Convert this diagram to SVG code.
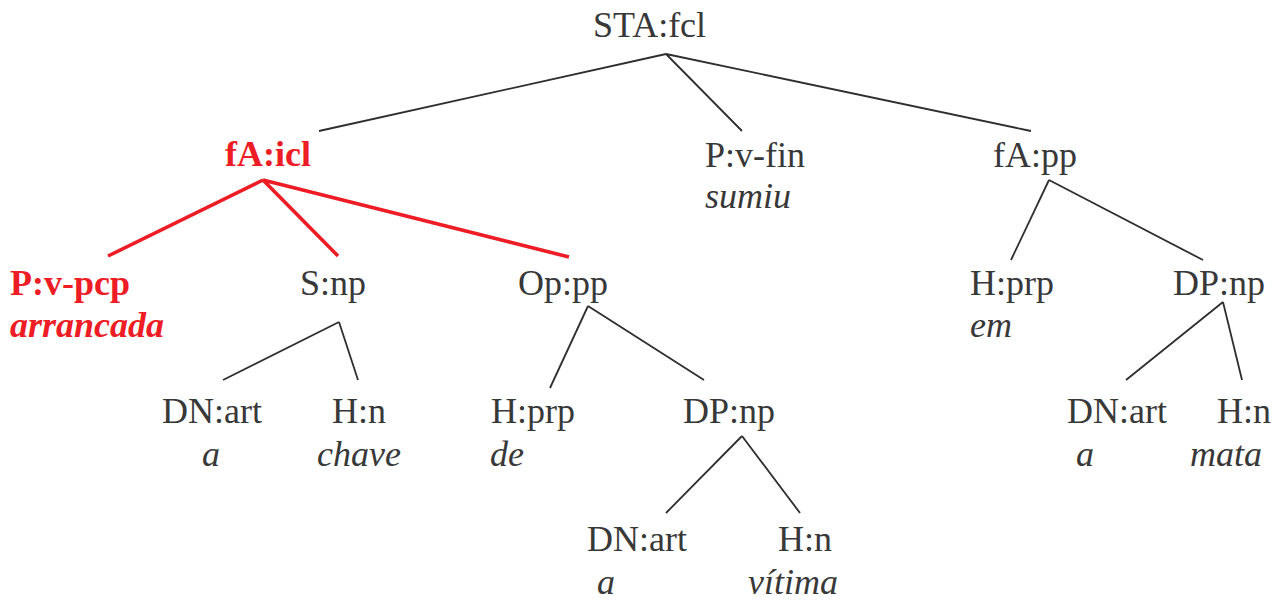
<svg xmlns="http://www.w3.org/2000/svg" width="1282" height="600" viewBox="0 0 1282 600">
<style>
.t{font-family:'Liberation Serif','DejaVu Serif',serif;font-size:36px;fill:#383838}
.w{font-style:italic}
.r{fill:#ee1c25;font-weight:bold}
.e{stroke:#2e2e2e;stroke-width:1.8;fill:none;stroke-linecap:butt}
.er{stroke:#ee1c25;stroke-width:3.6;fill:none}
</style>
<rect width="1282" height="600" fill="#ffffff"/>
<g id="connectors">
<path class="e" d="M666 54L319 131M666 54L742 131M666 54L1031 131"/>
<path class="e" d="M1049 180L1011 260M1049 180L1203 260"/>
<path class="e" d="M1223 302L1126 380M1223 302L1242 380"/>
<path class="e" d="M339 322L223 380M339 322L358 380"/>
<path class="e" d="M588 306L550 388M588 306L704 380"/>
<path class="e" d="M742 436L666 513M742 436L800 513"/>
<path class="er" d="M263 180L108 256M263 180L338 256M263 180L569 257"/>
</g>
<g class="t" font-family="Liberation Serif, serif">
<g id="n-sta"><text x="593" y="37">STA:fcl</text></g>
<g id="n-faicl"><text class="r" x="225" y="166">fA:icl</text></g>
<g id="n-pvfin"><text x="705" y="167">P:v-fin</text><text class="w" x="705" y="208">sumiu</text></g>
<g id="n-fapp"><text x="993" y="167">fA:pp</text></g>
<g id="n-pvpcp"><text class="r" x="10" y="295">P:v-pcp</text><text class="r w" x="10" y="337">arrancada</text></g>
<g id="n-snp"><text x="300" y="295">S:np</text></g>
<g id="n-oppp"><text x="518" y="295">Op:pp</text></g>
<g id="n-hprp2"><text x="970" y="295">H:prp</text><text class="w" x="970" y="337">em</text></g>
<g id="n-dpnp2"><text x="1173" y="295">DP:np</text></g>
<g id="n-dnart1"><text x="162" y="423">DN:art</text><text class="w" x="202" y="466">a</text></g>
<g id="n-hn1"><text x="332" y="423">H:n</text><text class="w" x="317" y="466">chave</text></g>
<g id="n-hprp1"><text x="491" y="423">H:prp</text><text class="w" x="490" y="466">de</text></g>
<g id="n-dpnp1"><text x="683" y="423">DP:np</text></g>
<g id="n-dnart3"><text x="1067" y="423">DN:art</text><text class="w" x="1076" y="466">a</text></g>
<g id="n-hn3"><text x="1217" y="423">H:n</text><text class="w" x="1190" y="466">mata</text></g>
<g id="n-dnart2"><text x="587" y="551">DN:art</text><text class="w" x="597" y="594">a</text></g>
<g id="n-hn2"><text x="778" y="551">H:n</text><text class="w" x="748" y="594">vítima</text></g>
</g>
</svg>
